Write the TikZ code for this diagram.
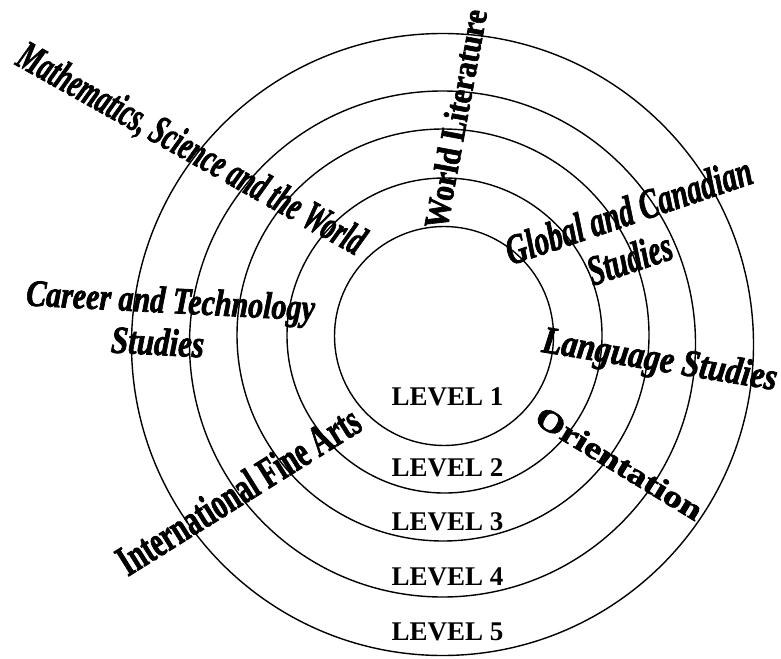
\documentclass[tikz,border=0pt]{standalone}
\usepackage{fontspec}
\setmainfont{Liberation Serif}
\newfontface\heavyup{Liberation Serif Bold}[FakeBold=2]
\newfontface\heavyit{Liberation Serif Bold Italic}[FakeBold=2]
\usepackage{tikz}
\tikzset{
  ring/.style={line width=1.4pt},
  itword/.style={inner sep=0pt,anchor=base,font=\heavyit\fontsize{#1}{#1}\selectfont},
  bfword/.style={inner sep=0pt,anchor=base,font=\heavyup\fontsize{#1}{#1}\selectfont},
  lvl/.style={inner sep=0pt,anchor=base,font=\bfseries\fontsize{27}{30}\selectfont},
}

\begin{document}
\begin{tikzpicture}[x=1pt,y=-1pt]
	\useasboundingbox (0,0) rectangle (781,658);
	\draw[ring] (444,336) circle[radius=109.5pt];
	\draw[ring] (444.5,335.5) circle[radius=157.5pt];
	\draw[ring] (443,335) circle[radius=206pt];
	\draw[ring] (442.5,344) circle[radius=253pt];
	\draw[ring] (442.5,344.5) circle[radius=311pt];
	\node[lvl] (lv1) at (447.5,405) {LEVEL 1};
	\node[lvl] (lv2) at (447.5,476) {LEVEL 2};
	\node[lvl] (lv3) at (447.5,530) {LEVEL 3};
	\node[lvl] (lv4) at (447.5,585) {LEVEL 4};
	\node[lvl] (lv5) at (447.5,640) {LEVEL 5};
	\node[itword=26,rotate=-29.3,yscale=1.6] (math) at (185,160) {Mathematics, Science and the World};
	\node[bfword=30,rotate=79.5,yscale=1.15] (worldlit) at (467,121) {World Literature};
	\node[itword=29,rotate=18.7,yscale=1.45] (global) at (633,224) {Global and Canadian};
	\node[itword=29,rotate=18.7,yscale=1.45] (globalst) at (634,272) {Studies};
	\node[itword=30,rotate=-3,yscale=1.25] (career) at (170,313) {Career and Technology};
	\node[itword=31,rotate=-3,yscale=1.25] (careerst) at (157,355) {Studies};
	\node[itword=32,rotate=-9.3,yscale=1.2] (lang) at (658,371) {Language Studies};
	\node[bfword=38,rotate=-31.4,yscale=0.8] (orient) at (614,472) {Orientation};
	\node[bfword=28,rotate=32,yscale=1.55] (finearts) at (246,503) {International Fine Arts};
\end{tikzpicture}
\end{document}
